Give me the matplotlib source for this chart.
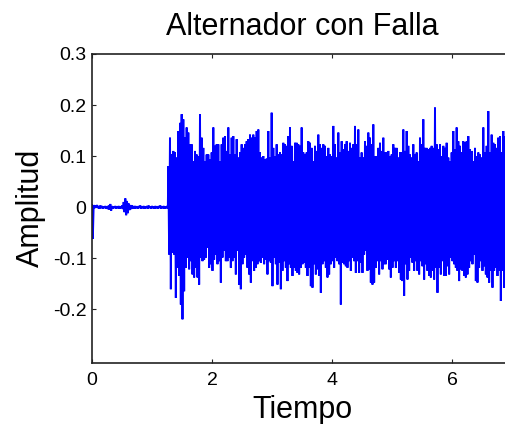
import numpy as np
import matplotlib
matplotlib.use("Agg")
import matplotlib.pyplot as plt

plt.rcParams['font.family'] = ['Liberation Sans', 'DejaVu Sans']

# ---- data (peak / trough of each ~1/36 s slot) ----
pre_upper = [0.004, 0.004, 0.003, 0.004, 0.002, 0.003, 0.002, 0.001, 0.002, 0.001,
             0.003, 0.006, 0.002, 0.001, 0.002, 0.001, 0.002, 0.001, 0.003, 0.010,
             0.017, 0.012, 0.007, 0.004, 0.003, 0.002, 0.002, 0.001, 0.002, 0.003,
             0.001, 0.002, 0.001, 0.002, 0.003, 0.001, 0.002, 0.001, 0.002, 0.001,
             0.002, 0.003, 0.001, 0.002, 0.001, 0.002]
pre_lower = [-0.062, -0.002, -0.001, -0.002, -0.003, -0.002, -0.003, -0.002, -0.003, -0.004,
             -0.005, -0.007, -0.003, -0.002, -0.003, -0.002, -0.003, -0.002, -0.004, -0.010,
             -0.016, -0.012, -0.006, -0.004, -0.003, -0.003, -0.002, -0.003, -0.002, -0.003,
             -0.002, -0.003, -0.002, -0.003, -0.002, -0.003, -0.002, -0.003, -0.002, -0.003,
             -0.002, -0.003, -0.002, -0.003, -0.002, -0.003]

upper_a = [0.080, 0.136, 0.103, 0.110, 0.107, 0.097, 0.149, 0.165, 0.182, 0.172,
           0.136, 0.156, 0.146, 0.123, 0.123, 0.090, 0.110, 0.103, 0.100, 0.182,
           0.136, 0.116, 0.090, 0.103, 0.103, 0.093, 0.107, 0.156, 0.120, 0.123,
           0.123, 0.090, 0.123, 0.136, 0.139, 0.110, 0.156, 0.103, 0.136, 0.139,
           0.103, 0.133, 0.097, 0.107, 0.123, 0.116, 0.123, 0.129, 0.133, 0.142,
           0.136, 0.142, 0.136, 0.149, 0.152]
lower_a = [-0.093, -0.161, -0.089, -0.093, -0.178, -0.119, -0.135, -0.191, -0.220, -0.165,
           -0.119, -0.099, -0.122, -0.106, -0.132, -0.138, -0.119, -0.138, -0.152, -0.099,
           -0.106, -0.103, -0.099, -0.080, -0.119, -0.112, -0.125, -0.103, -0.093, -0.112,
           -0.106, -0.148, -0.099, -0.086, -0.106, -0.106, -0.099, -0.119, -0.106, -0.099,
           -0.132, -0.086, -0.152, -0.161, -0.112, -0.099, -0.093, -0.119, -0.132, -0.148,
           -0.106, -0.125, -0.119, -0.112, -0.106]

upper_b = [0.107, 0.097, 0.100, 0.093, 0.095, 0.149, 0.097, 0.185, 0.116, 0.100,
           0.123, 0.103, 0.107, 0.103, 0.126, 0.123, 0.120, 0.139, 0.156, 0.120,
           0.090, 0.126, 0.126, 0.123, 0.120, 0.156, 0.107, 0.103, 0.107, 0.129,
           0.126, 0.116, 0.090, 0.120, 0.110, 0.142, 0.123, 0.116, 0.123, 0.120,
           0.100, 0.116, 0.103, 0.100, 0.159, 0.123, 0.097, 0.146, 0.107, 0.129,
           0.113, 0.123, 0.129, 0.110, 0.126, 0.116, 0.123]
lower_b = [-0.109, -0.099, -0.112, -0.103, -0.132, -0.106, -0.109, -0.155, -0.099, -0.112,
           -0.152, -0.109, -0.161, -0.125, -0.106, -0.119, -0.145, -0.112, -0.119, -0.135,
           -0.119, -0.125, -0.129, -0.132, -0.119, -0.112, -0.109, -0.119, -0.135, -0.119,
           -0.155, -0.158, -0.112, -0.132, -0.122, -0.135, -0.168, -0.112, -0.106, -0.119,
           -0.138, -0.132, -0.112, -0.106, -0.119, -0.099, -0.106, -0.112, -0.191, -0.109,
           -0.112, -0.116, -0.119, -0.106, -0.125, -0.099, -0.106]

upper_c = [0.159, 0.123, 0.152, 0.097, 0.107, 0.097, 0.129, 0.120, 0.146, 0.136,
           0.123, 0.162, 0.100, 0.100, 0.116, 0.126, 0.110, 0.136, 0.107, 0.107,
           0.110, 0.100, 0.103, 0.123, 0.116, 0.116, 0.097, 0.107, 0.107, 0.152,
           0.110, 0.149, 0.120, 0.103, 0.097, 0.123, 0.103, 0.107, 0.090, 0.136,
           0.123, 0.172, 0.116, 0.116, 0.113, 0.116, 0.120, 0.116, 0.195, 0.123,
           0.113, 0.123, 0.100, 0.120, 0.116, 0.126, 0.097]
lower_c = [-0.129, -0.106, -0.129, -0.109, -0.129, -0.093, -0.086, -0.125, -0.122, -0.148,
           -0.152, -0.148, -0.119, -0.106, -0.132, -0.106, -0.122, -0.112, -0.112, -0.103,
           -0.122, -0.138, -0.119, -0.106, -0.119, -0.106, -0.129, -0.142, -0.145, -0.174,
           -0.112, -0.142, -0.125, -0.099, -0.109, -0.125, -0.106, -0.125, -0.132, -0.106,
           -0.116, -0.142, -0.112, -0.125, -0.135, -0.138, -0.125, -0.142, -0.119, -0.168,
           -0.119, -0.132, -0.106, -0.135, -0.135, -0.116, -0.132]

upper_d = [0.090, 0.107, 0.149, 0.113, 0.156, 0.129, 0.120, 0.107, 0.129, 0.126,
           0.129, 0.139, 0.113, 0.110, 0.090, 0.116, 0.100, 0.107, 0.103, 0.097,
           0.156, 0.107, 0.120, 0.188, 0.107, 0.142, 0.126, 0.123, 0.116, 0.136,
           0.139, 0.107, 0.149, 0.139, 0.120, 0.110]
lower_d = [-0.099, -0.106, -0.112, -0.119, -0.125, -0.145, -0.122, -0.125, -0.135, -0.138,
           -0.132, -0.119, -0.106, -0.112, -0.093, -0.145, -0.148, -0.119, -0.106, -0.125,
           -0.116, -0.132, -0.138, -0.148, -0.125, -0.158, -0.125, -0.119, -0.135, -0.125,
           -0.184, -0.125, -0.158, -0.106, -0.110, -0.120]

slot = 1.0 / 36.0          # time between successive peak readings
fault_start = 1.272        # time of fault onset

xticks = [0, 2, 4, 6]
yticks = [-0.2, -0.1, 0, 0.1, 0.2, 0.3]
ytick_labels = ['-0.2', '-0.1', '0', '0.1', '0.2', '0.3']

# ---- build signal (alternating peak / trough per slot) ----
def zigzag(t0, up, lo):
    up = np.asarray(up); lo = np.asarray(lo)
    t = t0 + np.arange(len(up)) * slot
    x = np.empty(2 * len(up)); y = np.empty(2 * len(up))
    x[0::2] = t; x[1::2] = t + slot / 2
    y[0::2] = up; y[1::2] = lo
    return x, y

upper = upper_a + upper_b + upper_c + upper_d
lower = lower_a + lower_b + lower_c + lower_d
x_pre, y_pre = zigzag(0.0, pre_upper, pre_lower)
x_f, y_f = zigzag(fault_start, upper, lower)
x_all = np.concatenate([x_pre, x_f])
y_all = np.concatenate([y_pre, y_f])

# ---- figure ----
fig = plt.figure(figsize=(5.06, 4.24), dpi=100)
ax = fig.add_axes([92 / 506, 1 - 362.7 / 424, 420 / 506, (362.7 - 54) / 424])
ax.plot(x_all, y_all, color='#0000ff', lw=1.4, solid_joinstyle='miter')

ax.set_xlim(0, 7)
ax.set_ylim(-0.305, 0.3)
ax.set_xticks(xticks)
ax.set_yticks(yticks)
ax.set_yticklabels(ytick_labels)
ax.tick_params(direction='in', length=3, width=0.8, labelsize=14, top=True, right=True,
               color='#222222')
ax.tick_params(axis='x', pad=7)
ax.tick_params(axis='y', pad=4)
for s in ax.spines.values():
    s.set_linewidth(1.2)
    s.set_color('#222222')

ax.set_title('Alternador con Falla', fontsize=22, pad=14)
ax.set_xlabel('Tiempo', fontsize=22, labelpad=4)
ax.set_ylabel('Amplitud', fontsize=22, labelpad=5)

fig.savefig('out.png', dpi=100)
